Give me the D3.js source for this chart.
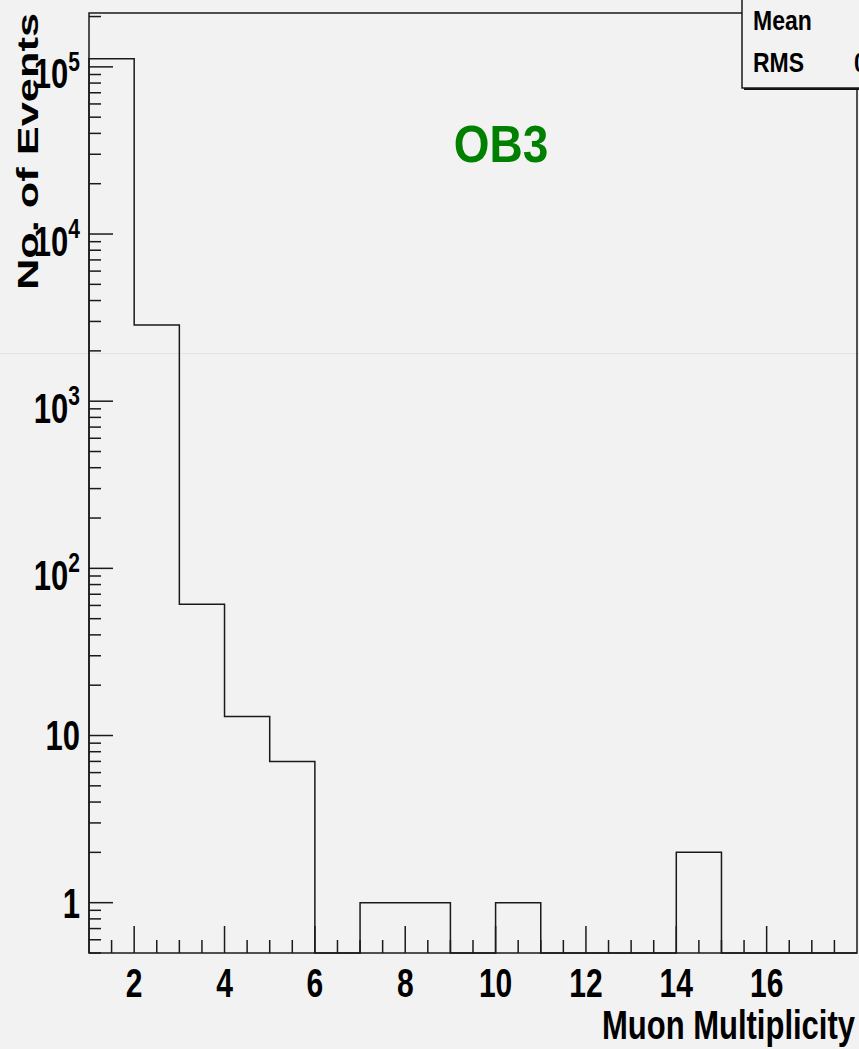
<!DOCTYPE html>
<html>
<head>
<meta charset="utf-8">
<script src="https://cdn.jsdelivr.net/npm/d3@7"></script>
<style>
body{margin:0;background:#f2f2f2;overflow:hidden;}
svg{display:block;}
text{font-family:"Liberation Sans",Arial,Helvetica,sans-serif;font-weight:bold;fill:#000;}
</style>
</head>
<body>
<div class="canvas"></div>
<script>
//data (bin low edges 1..17, width 1)
var binEdges = [1,2,3,4,5,6,7,8,9,10,11,12,13,14,15,16,17,18];
var counts = [112000, 2860, 61, 13, 7, 0, 1, 1, 0, 1, 0, 0, 0, 2, 0, 0, 0];
var xTickLabels = [2,4,6,8,10,12,14,16];
var yDecades = [0,1,2,3,4,5];
var statNames = ['Mean','RMS'];
//only the first digit of the RMS value shows at the right edge
var statValues = ['','0'];
var title = 'OB3';
var xTitle = 'Muon Multiplicity';
var yTitle = 'No. of Events';

var W = 859, H = 1049;
var margin = {t:13,r:2,b:96,l:89};
var width = W-margin.l-margin.r,
	height = H-margin.t-margin.b;

var svg = d3.select('.canvas')
	.append('svg')
	.attr('width',W)
	.attr('height',H);

svg.append('rect').attr('width',W).attr('height',H).attr('fill','#f2f2f2');
//faint seam across the picture
svg.append('line').attr('x1',0).attr('x2',W).attr('y1',353.5).attr('y2',353.5)
	.attr('stroke','#e4e4e4').attr('stroke-width',1);

var plot = svg.append('g')
	.attr('transform','translate('+margin.l+','+margin.t+')');

var x = d3.scaleLinear().domain([1,18]).range([0,width]);
var y = d3.scaleLog().domain([0.5,2.1e5]).range([height,0]);

var ink = '#1a1a1a';

//histogram outline, empty bins drop to the bottom of the frame
function yv(c){ return c>0 ? y(c) : height; }
var pts = [[x(binEdges[0]),height]];
counts.forEach(function(c,i){
	pts.push([x(binEdges[i]),yv(c)]);
	pts.push([x(binEdges[i+1]),yv(c)]);
});
pts.push([x(binEdges[binEdges.length-1]),height]);
plot.append('path')
	.attr('d',d3.line()(pts))
	.attr('fill','none')
	.attr('stroke',ink)
	.attr('stroke-width',1.5);

//x ticks: major every 2, minor every 0.5
var xMinor = d3.range(1.5,18,0.5);
xMinor.forEach(function(v){
	var major = xTickLabels.indexOf(v) >= 0;
	plot.append('line')
		.attr('x1',x(v)).attr('x2',x(v))
		.attr('y1',height).attr('y2',height-(major?27:13))
		.attr('stroke',ink).attr('stroke-width',1.5);
});
xTickLabels.forEach(function(v){
	plot.append('g')
		.attr('transform','translate('+x(v)+','+(height+44)+') scale(1,1.38)')
		.append('text')
		.attr('text-anchor','middle')
		.style('font-size','30px')
		.text(v);
});

//y ticks: decades long, 2..9 short
var yMinor = [];
[-1,0,1,2,3,4,5].forEach(function(e){
	for (var k=2;k<=9;k++){
		var v = k*Math.pow(10,e);
		if (v>=0.5 && v<=2.1e5) yMinor.push(v);
	}
});
yMinor.forEach(function(v){
	plot.append('line')
		.attr('x1',0).attr('x2',12)
		.attr('y1',y(v)).attr('y2',y(v))
		.attr('stroke',ink).attr('stroke-width',1.5);
});
yDecades.forEach(function(e){
	var v = Math.pow(10,e);
	plot.append('line')
		.attr('x1',0).attr('x2',24)
		.attr('y1',y(v)).attr('y2',y(v))
		.attr('stroke',ink).attr('stroke-width',1.5);
	var g = plot.append('g')
		.attr('transform','translate(-9,'+y(v)+') scale(1,1.35)');
	var t = g.append('text').attr('text-anchor','end').style('font-size','31px');
	if (e<2){
		t.attr('y',11).text(v);
	} else {
		t.attr('y',16);
		t.append('tspan').text('10');
		t.append('tspan').attr('dy',-13).style('font-size','21px').text(e);
	}
});

//frame
plot.append('rect')
	.attr('width',width).attr('height',height)
	.attr('fill','none').attr('stroke',ink).attr('stroke-width',1.5);

//stats box
var box = svg.append('g').attr('transform','translate(742,-2)');
box.append('rect').attr('x',2).attr('y',2).attr('width',140).attr('height',90)
	.attr('fill','#111');
box.append('rect').attr('width',140).attr('height',90)
	.attr('fill','#f2f2f2').attr('stroke',ink).attr('stroke-width',1.5);
statNames.forEach(function(n,i){
	var row = box.append('g')
		.attr('transform','translate(11,'+(32+42*i)+') scale(1,1.2)');
	row.append('text').style('font-size','23px').text(n);
	if (statValues[i]) {
		row.append('text').attr('x',101)
			.style('font-size','23px').text(statValues[i]);
	}
});

//title
svg.append('g')
	.attr('transform','translate(501,162) scale(1,1.12)')
	.append('text')
	.attr('text-anchor','middle')
	.style('font-size','46px')
	.style('fill','#008000')
	.text(title);

//axis titles
svg.append('g')
	.attr('transform','translate(855,1039) scale(1,1.3)')
	.append('text')
	.attr('text-anchor','end')
	.style('font-size','31px')
	.text(xTitle);

svg.append('text')
	.attr('transform','translate(38,290) rotate(-90)')
	.attr('textLength',277)
	.attr('lengthAdjust','spacingAndGlyphs')
	.style('font-size','29.5px')
	.text(yTitle);
</script>
</body>
</html>
